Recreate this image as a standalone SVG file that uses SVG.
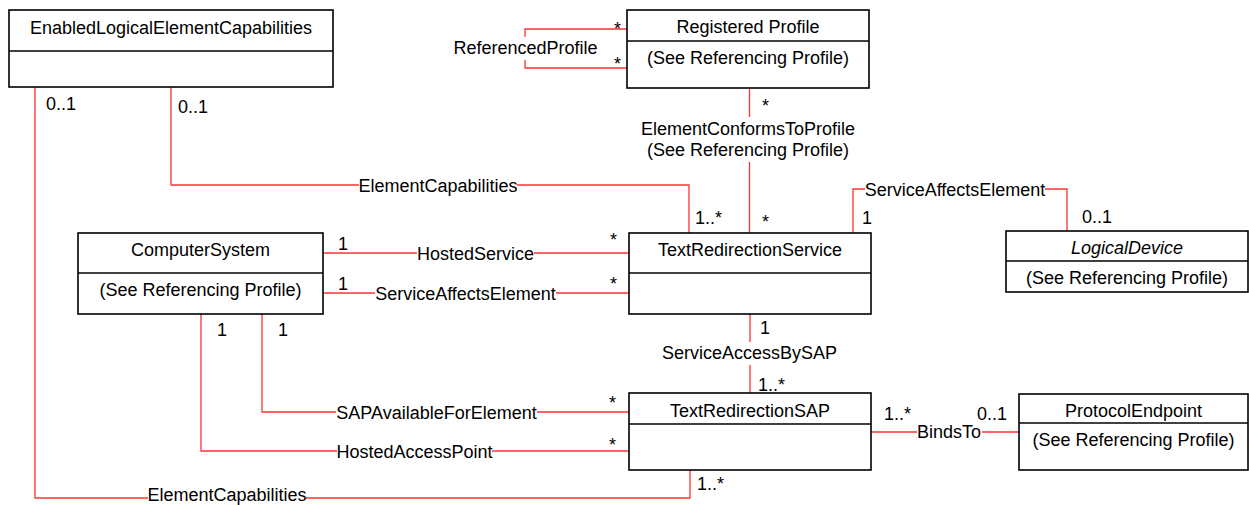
<svg xmlns="http://www.w3.org/2000/svg" width="1249" height="505" viewBox="0 0 1249 505">
<style>
text{font-family:"Liberation Sans",Arial,sans-serif;font-size:18px;fill:#000}
.c{text-anchor:middle}
.i{font-style:italic}
.box{fill:#fff;stroke:#000;stroke-width:1.6}
.div{stroke:#000;stroke-width:1.6;fill:none}
.ln{fill:none;stroke:#f33;stroke-width:1.3}
</style>
<rect width="1249" height="505" fill="#fff"/>
<g id="connectors">
  <path class="ln" d="M171,87 V185 H359 M517,185 H689 V233"/>
  <path class="ln" d="M35,87 V498 H148 M306,498 H690 V470"/>
  <path class="ln" d="M627,29 H525 V37 M525,60 V68 H627"/>
  <path class="ln" d="M749.5,88 V117 M749.5,162 V233"/>
  <path class="ln" d="M853,233 V189 H865 M1045,189 H1067 V231"/>
  <path class="ln" d="M323,253 H417 M534,253 H629"/>
  <path class="ln" d="M323,293 H375 M556,293 H629"/>
  <path class="ln" d="M262,314 V412 H336 M537,412 H629"/>
  <path class="ln" d="M201,314 V451 H337 M492,451 H629"/>
  <path class="ln" d="M750,314 V342 M750,365 V393"/>
  <path class="ln" d="M871,432 H917 M982,432 H1019"/>
  <g id="labels">
    <text class="c" x="438" y="191.5">ElementCapabilities</text>
    <text class="c" x="227" y="501">ElementCapabilities</text>
    <text class="c" x="525.5" y="54">ReferencedProfile</text>
    <text class="c" x="748" y="134.5">ElementConformsToProfile</text>
    <text class="c" x="748" y="156">(See Referencing Profile)</text>
    <text class="c" x="955" y="195.5">ServiceAffectsElement</text>
    <text class="c" x="475.5" y="259.5">HostedService</text>
    <text class="c" x="465.5" y="299.5">ServiceAffectsElement</text>
    <text class="c" x="436.5" y="418.5">SAPAvailableForElement</text>
    <text class="c" x="414.5" y="457.5">HostedAccessPoint</text>
    <text class="c" x="749.5" y="359">ServiceAccessBySAP</text>
    <text class="c" x="949" y="437.5">BindsTo</text>
  </g>
  <g id="multiplicities">
    <text x="46" y="110">0..1</text>
    <text x="178" y="113">0..1</text>
    <text x="614" y="35">*</text>
    <text x="614" y="69.5">*</text>
    <text x="762" y="112">*</text>
    <text x="695" y="224">1..*</text>
    <text x="762" y="228">*</text>
    <text x="862" y="224">1</text>
    <text x="1082" y="223">0..1</text>
    <text x="338" y="249.5">1</text>
    <text x="610" y="246">*</text>
    <text x="338" y="289.5">1</text>
    <text x="610" y="289.5">*</text>
    <text x="217" y="336">1</text>
    <text x="278" y="336">1</text>
    <text x="609" y="409">*</text>
    <text x="609" y="450.5">*</text>
    <text x="760" y="334">1</text>
    <text x="758" y="391">1..*</text>
    <text x="884" y="420">1..*</text>
    <text x="977" y="420">0..1</text>
    <text x="697" y="490">1..*</text>
  </g>
</g>
<g id="EnabledLogicalElementCapabilities">
  <rect class="box" x="9" y="10" width="324" height="77"/>
  <path class="div" d="M9,51 H333"/>
  <text class="c" x="171" y="34">EnabledLogicalElementCapabilities</text>
</g>
<g id="RegisteredProfile">
  <rect class="box" x="627" y="10" width="242" height="78"/>
  <path class="div" d="M627,41 H869"/>
  <text class="c" x="748" y="33">Registered Profile</text>
  <text class="c" x="748" y="64">(See Referencing Profile)</text>
</g>
<g id="TextRedirectionService">
  <rect class="box" x="629" y="233" width="242" height="81"/>
  <path class="div" d="M629,273 H871"/>
  <text class="c" x="750" y="256">TextRedirectionService</text>
</g>
<g id="LogicalDevice">
  <rect class="box" x="1006" y="231" width="242" height="61"/>
  <path class="div" d="M1006,261 H1248"/>
  <text class="c i" x="1127" y="254">LogicalDevice</text>
  <text class="c" x="1127" y="284">(See Referencing Profile)</text>
</g>
<g id="ComputerSystem">
  <rect class="box" x="78" y="233" width="245" height="81"/>
  <path class="div" d="M78,273 H323"/>
  <text class="c" x="200.5" y="256">ComputerSystem</text>
  <text class="c" x="200.5" y="296">(See Referencing Profile)</text>
</g>
<g id="TextRedirectionSAP">
  <rect class="box" x="629" y="393" width="242" height="77"/>
  <path class="div" d="M629,424 H871"/>
  <text class="c" x="750" y="416.5">TextRedirectionSAP</text>
</g>
<g id="ProtocolEndpoint">
  <rect class="box" x="1019" y="394" width="229" height="76"/>
  <path class="div" d="M1019,423 H1248"/>
  <text class="c" x="1133.5" y="416.5">ProtocolEndpoint</text>
  <text class="c" x="1133.5" y="446">(See Referencing Profile)</text>
</g>
</svg>
